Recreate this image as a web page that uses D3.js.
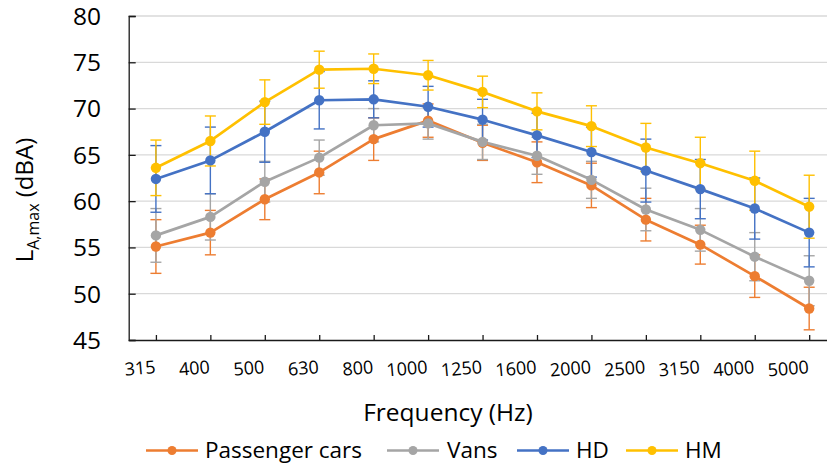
<!DOCTYPE html>
<html>
<head>
<meta charset="utf-8">
<script src="https://cdn.jsdelivr.net/npm/d3@7/dist/d3.min.js"></script>
<style>
  html, body { margin: 0; padding: 0; background: #fff; }
  svg { display: block; }
  text { font-family: "Open Sans", "Noto Sans", sans-serif; fill: #000; }
</style>
</head>
<body>
<svg id="chart" width="827" height="465"></svg>
<script>
// Third-octave band centre frequencies (Hz)
const frequencies = ["315", "400", "500", "630", "800", "1000", "1250", "1600", "2000", "2500", "3150", "4000", "5000"];

// Mean L_A,max per vehicle class (dBA)
const passengerCars = [55.1, 56.6, 60.2, 63.1, 66.7, 68.7, 66.3, 64.2, 61.7, 58.0, 55.3, 51.9, 48.4];
const vans          = [56.3, 58.3, 62.1, 64.7, 68.2, 68.4, 66.4, 64.9, 62.3, 59.1, 56.9, 54.0, 51.4];
const heavyDuty     = [62.4, 64.4, 67.5, 70.9, 71.0, 70.2, 68.8, 67.1, 65.3, 63.3, 61.3, 59.2, 56.6];
const heavyMedium   = [63.6, 66.5, 70.7, 74.2, 74.3, 73.6, 71.8, 69.7, 68.1, 65.8, 64.1, 62.2, 59.4];

// Standard deviations (dBA)
const passengerCarsSd = [2.9, 2.4, 2.2, 2.3, 2.3, 1.8, 1.9, 2.2, 2.4, 2.3, 2.1, 2.3, 2.3];
const vansSd          = [2.9, 2.5, 2.2, 1.9, 1.8, 1.7, 1.9, 2.0, 2.0, 2.3, 2.3, 2.6, 2.7];
const heavyDutySd     = [3.6, 3.6, 3.3, 3.1, 2.0, 2.2, 2.2, 2.4, 2.7, 3.4, 3.2, 3.3, 3.7];
const heavyMediumSd   = [3.0, 2.7, 2.4, 2.0, 1.6, 1.6, 1.7, 2.0, 2.2, 2.6, 2.8, 3.2, 3.4];

const seriesNames  = ["Passenger cars", "Vans", "HD", "HM"];
const seriesColors = ["#ED7D31", "#A5A5A5", "#4472C4", "#FFC000"];
const yTicks = [45, 50, 55, 60, 65, 70, 75, 80];

const series = [
  { name: seriesNames[0], color: seriesColors[0], values: passengerCars, sd: passengerCarsSd },
  { name: seriesNames[1], color: seriesColors[1], values: vans,          sd: vansSd },
  { name: seriesNames[2], color: seriesColors[2], values: heavyDuty,     sd: heavyDutySd },
  { name: seriesNames[3], color: seriesColors[3], values: heavyMedium,   sd: heavyMediumSd }
];

const svg = d3.select("#chart");
const plot = { left: 128.7, top: 16, bottom: 340, right: 836.4 };

const x = d3.scalePoint().domain(frequencies).range([plot.left, plot.right]).padding(0.5);
const y = d3.scaleLinear().domain([45, 80]).range([plot.bottom, plot.top]);

// horizontal gridlines
svg.append("g")
  .selectAll("line")
  .data(yTicks.filter(t => t > 45))
  .join("line")
  .attr("x1", plot.left).attr("x2", 827)
  .attr("y1", d => y(d)).attr("y2", d => y(d))
  .attr("stroke", "#D9D9D9").attr("stroke-width", 1.3);

// y axis (ticks point into the plot)
const yAxis = svg.append("g")
  .attr("transform", `translate(${plot.left},0)`)
  .call(d3.axisRight(y).tickValues(yTicks).tickSize(7).tickFormat(""));
yAxis.select(".domain").attr("stroke", "#1a1a1a").attr("stroke-width", 1.3);
yAxis.selectAll(".tick line").attr("stroke", "#1a1a1a").attr("stroke-width", 1.3);

svg.append("g")
  .selectAll("text")
  .data(yTicks)
  .join("text")
  .attr("x", 101)
  .attr("y", d => y(d))
  .attr("dy", "0.36em")
  .attr("text-anchor", "end")
  .style("font-size", "24.5px")
  .text(d => d);

// x axis (ticks point up into the plot)
const xAxis = svg.append("g")
  .attr("transform", `translate(0,${plot.bottom})`)
  .call(d3.axisTop(x).tickSize(5).tickSizeOuter(0).tickFormat(""));
xAxis.select(".domain").attr("stroke", "#1a1a1a").attr("stroke-width", 1.3);
xAxis.selectAll(".tick line").attr("stroke", "#1a1a1a").attr("stroke-width", 1.3);

// slanted frequency labels, right end at each tick
svg.append("g")
  .selectAll("text")
  .data(frequencies)
  .join("text")
  .attr("transform", d => `translate(${x(d)},${plot.bottom + 33}) rotate(-5)`)
  .attr("text-anchor", "end")
  .style("font-size", "18px")
  .text(d => d);

// axis titles
svg.append("text")
  .attr("x", 448).attr("y", 421)
  .attr("text-anchor", "middle")
  .style("font-size", "24.5px")
  .text("Frequency (Hz)");

const yTitle = svg.append("text")
  .attr("transform", "translate(33,200) rotate(-90)")
  .attr("text-anchor", "middle")
  .style("font-size", "24px");
yTitle.append("tspan").text("L");
yTitle.append("tspan").attr("dy", 6).style("font-size", "16px").text("A,max");
yTitle.append("tspan").attr("dy", -6).text(" (dBA)");

// error bars (± 1 SD)
const capHalf = 5.5;
const errG = svg.append("g");
series.forEach(s => {
  const g = errG.append("g").attr("stroke", s.color).attr("stroke-width", 1.4).attr("fill", "none");
  s.values.forEach((v, i) => {
    const cx = x(frequencies[i]);
    const top = y(v + s.sd[i]), bot = y(v - s.sd[i]);
    g.append("line").attr("x1", cx).attr("x2", cx).attr("y1", top).attr("y2", bot);
    g.append("line").attr("x1", cx - capHalf).attr("x2", cx + capHalf).attr("y1", top).attr("y2", top);
    g.append("line").attr("x1", cx - capHalf).attr("x2", cx + capHalf).attr("y1", bot).attr("y2", bot);
  });
});

// series lines and markers
const line = d3.line().x((d, i) => x(frequencies[i])).y(d => y(d));
series.forEach(s => {
  svg.append("path")
    .datum(s.values)
    .attr("d", line)
    .attr("fill", "none")
    .attr("stroke", s.color)
    .attr("stroke-width", 2.7)
    .attr("stroke-linejoin", "round");
});
series.forEach(s => {
  svg.append("g")
    .selectAll("circle")
    .data(s.values)
    .join("circle")
    .attr("cx", (d, i) => x(frequencies[i]))
    .attr("cy", d => y(d))
    .attr("r", 5.2)
    .attr("fill", s.color);
});

// legend
const legendItems = [
  { lineX: 146, textX: 205 },
  { lineX: 387, textX: 447 },
  { lineX: 517, textX: 576 },
  { lineX: 626, textX: 685 }
];
const legend = svg.append("g");
series.forEach((s, i) => {
  const li = legendItems[i];
  const ly = 450.5;
  legend.append("line")
    .attr("x1", li.lineX).attr("x2", li.lineX + 52)
    .attr("y1", ly).attr("y2", ly)
    .attr("stroke", s.color).attr("stroke-width", 2.7);
  legend.append("circle")
    .attr("cx", li.lineX + 26).attr("cy", ly).attr("r", 4.5)
    .attr("fill", s.color);
  legend.append("text")
    .attr("x", li.textX).attr("y", ly)
    .attr("dy", "0.33em")
    .style("font-size", "22.5px")
    .text(s.name);
});
</script>
</body>
</html>
